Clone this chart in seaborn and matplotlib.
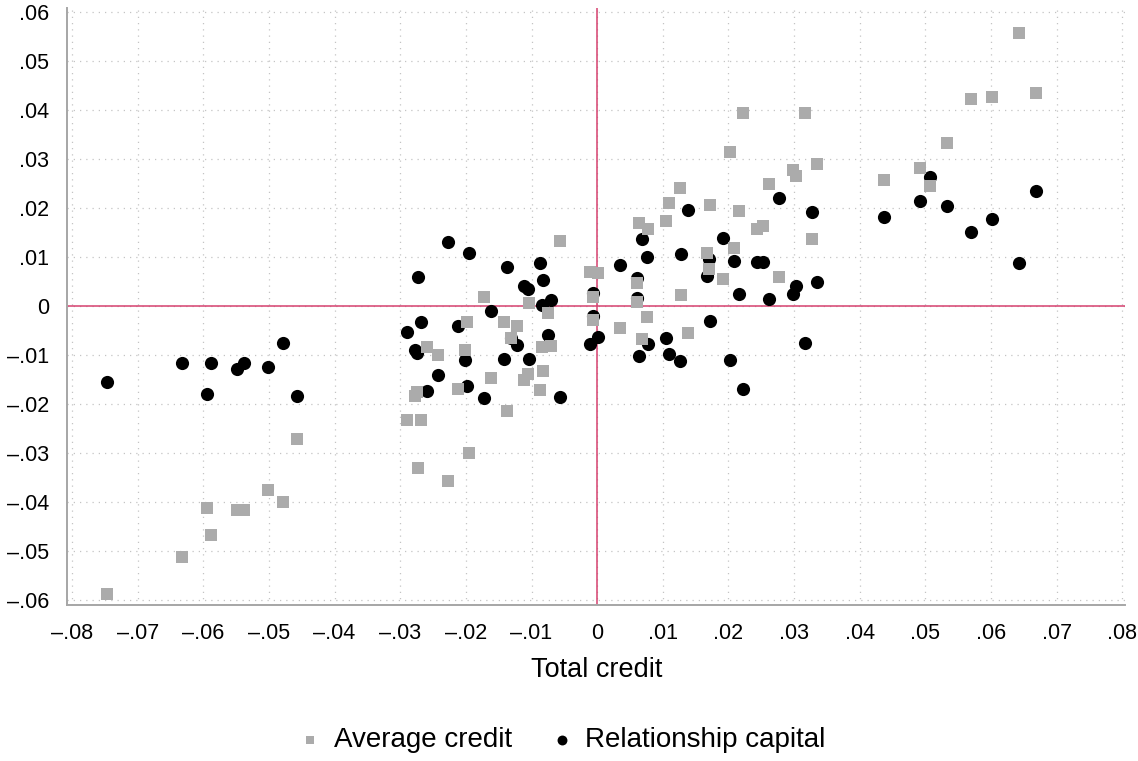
import numpy as np
import pandas as pd
import matplotlib
matplotlib.use("Agg")
import matplotlib.pyplot as plt
import seaborn as sns

# values (one entry per country)
total_credit = [
    -0.0746, -0.0633, -0.0595, -0.0588, -0.0549, -0.0538, -0.0502, -0.0478, -0.0457,
    -0.0289, -0.0277, -0.0274, -0.0273, -0.0269, -0.0260, -0.0243, -0.0228, -0.0212,
    -0.0201, -0.0199, -0.0195, -0.0172, -0.0161, -0.0142, -0.0137, -0.0132, -0.0122,
    -0.0111, -0.0106, -0.0104, -0.0087, -0.0084, -0.0082, -0.0075, -0.0071, -0.0056,
    -0.0011, -0.0007, -0.0006, 0.0002, 0.0034, 0.0061, 0.0061, 0.0064, 0.0068,
    0.0076, 0.0077, 0.0105, 0.0109, 0.0126, 0.0127, 0.0138, 0.0167, 0.0170,
    0.0172, 0.0192, 0.0202, 0.0209, 0.0216, 0.0222, 0.0243, 0.0253, 0.0261,
    0.0277, 0.0299, 0.0303, 0.0317, 0.0327, 0.0335, 0.0437, 0.0491, 0.0507,
    0.0533, 0.0569, 0.0601, 0.0643, 0.0669,
]
average_credit = [
    -0.0589, -0.0514, -0.0413, -0.0469, -0.0418, -0.0418, -0.0377, -0.0400, -0.0272,
    -0.0234, -0.0185, -0.0177, -0.0331, -0.0234, -0.0084, -0.0100, -0.0357, -0.0170,
    -0.0090, -0.0033, -0.0301, 0.0017, -0.0148, -0.0033, -0.0215, -0.0065, -0.0042,
    -0.0152, -0.0139, 0.0005, -0.0173, -0.0084, -0.0133, -0.0015, -0.0082, 0.0132,
    0.0069, 0.0017, -0.0029, 0.0067, -0.0046, 0.0047, 0.0007, 0.0169, -0.0068,
    -0.0023, 0.0156, 0.0173, 0.0209, 0.0240, 0.0022, -0.0055, 0.0108, 0.0075,
    0.0205, 0.0054, 0.0313, 0.0118, 0.0193, 0.0394, 0.0156, 0.0163, 0.0249,
    0.0058, 0.0277, 0.0264, 0.0394, 0.0137, 0.0289, 0.0256, 0.0280, 0.0244,
    0.0331, 0.0421, 0.0425, 0.0556, 0.0434,
]
relationship_capital = [
    -0.0155, -0.0118, -0.0181, -0.0118, -0.0130, -0.0118, -0.0125, -0.0077, -0.0184,
    -0.0054, -0.0091, -0.0097, 0.0058, -0.0034, -0.0175, -0.0142, 0.0130, -0.0041,
    -0.0110, -0.0165, 0.0107, -0.0188, -0.0011, -0.0108, 0.0079, -0.0066, -0.0080,
    0.0041, 0.0034, -0.0109, 0.0088, 0.0002, 0.0052, -0.0060, 0.0012, -0.0187,
    -0.0078, -0.0021, 0.0025, -0.0064, 0.0082, 0.0015, 0.0057, -0.0103, 0.0137,
    0.0100, -0.0078, -0.0066, -0.0099, -0.0113, 0.0105, 0.0195, 0.0060, 0.0096,
    -0.0031, 0.0139, -0.0111, 0.0092, 0.0024, -0.0170, 0.0090, 0.0090, 0.0013,
    0.0220, 0.0024, 0.0040, -0.0077, 0.0191, 0.0048, 0.0181, 0.0213, 0.0263,
    0.0203, 0.0150, 0.0177, 0.0088, 0.0235,
]

x_ticks = [-0.08, -0.07, -0.06, -0.05, -0.04, -0.03, -0.02, -0.01, 0,
           0.01, 0.02, 0.03, 0.04, 0.05, 0.06, 0.07, 0.08]
x_tick_labels = ["\u2013.08", "\u2013.07", "\u2013.06", "\u2013.05", "\u2013.04", "\u2013.03",
                 "\u2013.02", "\u2013.01", "0", ".01", ".02", ".03", ".04", ".05", ".06",
                 ".07", ".08"]
y_ticks = [-0.06, -0.05, -0.04, -0.03, -0.02, -0.01, 0, 0.01, 0.02, 0.03, 0.04, 0.05, 0.06]
y_tick_labels = ["\u2013.06", "\u2013.05", "\u2013.04", "\u2013.03", "\u2013.02", "\u2013.01",
                 "0", ".01", ".02", ".03", ".04", ".05", ".06"]

df = pd.DataFrame({
    "total": total_credit,
    "avg": average_credit,
    "rel": relationship_capital,
})

sns.set_style("white")
plt.rcParams["font.family"] = ["Liberation Sans", "DejaVu Sans"]
plt.rcParams["text.color"] = "black"
plt.rcParams["axes.labelcolor"] = "black"

fig = plt.figure(figsize=(11.38, 7.61), dpi=100)
ax = fig.add_axes([0.0589, 0.205, 0.93, 0.7845])

axis_gray = "#a6a6a6"
ref_red = "#d6416f"

# dotted grid at every tick
for v in x_ticks:
    ax.axvline(v, color="#c4c4c4", lw=0.9, ls=(0, (1, 4)), zorder=0)
for v in y_ticks:
    ax.axhline(v, color="#c4c4c4", lw=0.9, ls=(0, (1, 4)), zorder=0)

ax.axvline(0, color=ref_red, lw=1.1, zorder=1)
ax.axhline(0, color=ref_red, lw=1.1, zorder=1)

sns.scatterplot(data=df, x="total", y="rel", ax=ax, color="black", marker="o",
                s=90, linewidth=0, label="Relationship capital", zorder=2)
sns.scatterplot(data=df, x="total", y="avg", ax=ax, color="#ababab", marker="s",
                s=72, linewidth=0, label="Average credit", zorder=3)

ax.set_xlim(-0.08076, 0.08046)
ax.set_ylim(-0.0611, 0.06076)
ax.set_xticks(x_ticks)
ax.set_xticklabels(x_tick_labels)
ax.set_yticks(y_ticks)
ax.set_yticklabels(y_tick_labels)
ax.tick_params(axis="both", labelsize=15.5, length=8, width=1.4, color=axis_gray,
               direction="out", pad=5, labelcolor="black")

for side in ["top", "right"]:
    ax.spines[side].set_visible(False)
for side in ["left", "bottom"]:
    ax.spines[side].set_color(axis_gray)
    ax.spines[side].set_linewidth(1.4)

ax.set_xlabel("Total credit", fontsize=19.5, labelpad=9)
ax.set_ylabel("")

handles, labels = ax.get_legend_handles_labels()
order = [labels.index("Average credit"), labels.index("Relationship capital")]
ax.legend([handles[i] for i in order], [labels[i] for i in order],
          loc="center", bbox_to_anchor=(0.493, 0.027), bbox_transform=fig.transFigure,
          ncol=2, frameon=False, fontsize=20, handletextpad=0.35, columnspacing=1.3,
          markerscale=0.75, handlelength=1.0)

fig.savefig("out.png", dpi=100)
